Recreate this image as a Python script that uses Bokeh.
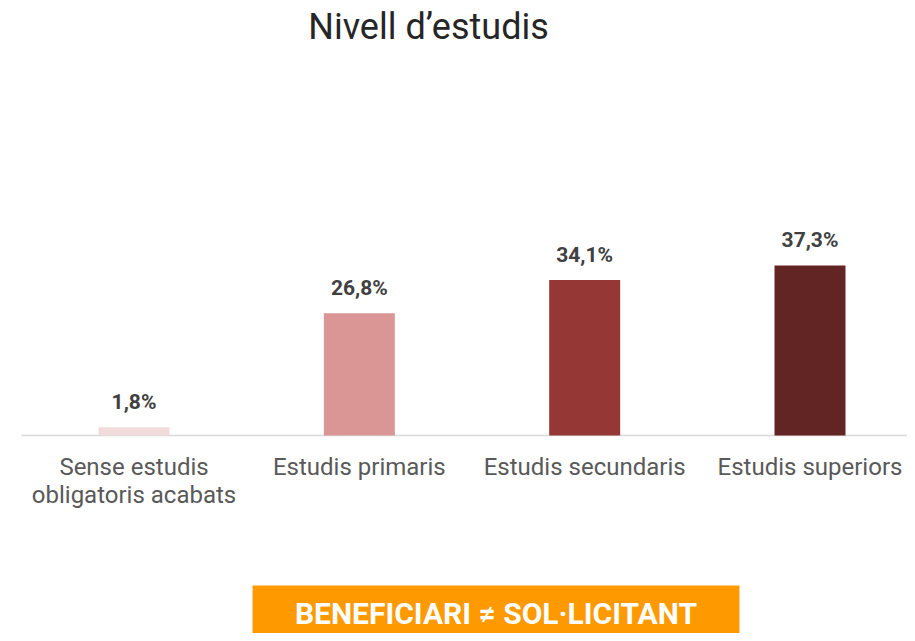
from bokeh.plotting import figure
from bokeh.models import Range1d, ColumnDataSource
from bokeh.core.properties import value
from bokeh.embed import file_html
from bokeh.resources import INLINE

# ---- data ----
title_text = "Nivell d’estudis"
categories = ["Sense estudis\nobligatoris acabats", "Estudis primaris",
              "Estudis secundaris", "Estudis superiors"]
percentages = [1.8, 26.8, 34.1, 37.3]
value_labels = ["1,8%", "26,8%", "34,1%", "37,3%"]
bar_colors = ["#F2DCDB", "#D99694", "#953735", "#632523"]
banner_text = "BENEFICIARI ≠ SOL·LICITANT"

# ---- layout ----
W, H = 907, 633
X0, X1 = -0.5925, 3.4327
Y0, Y1 = -43.44, 95.44
FONT = "Roboto"

xs = list(range(len(categories)))
line1 = [c.split("\n")[0] for c in categories]
line2 = [c.split("\n")[1] if "\n" in c else "" for c in categories]

src = ColumnDataSource(dict(x=xs, top=percentages, color=bar_colors,
                            lab=value_labels, l1=line1, l2=line2))

p = figure(width=W, height=H, x_range=Range1d(X0, X1), y_range=Range1d(Y0, Y1),
           output_backend="svg", toolbar_location=None,
           x_axis_location=None, y_axis_location=None, min_border=0)
p.outline_line_color = None
p.xgrid.visible = False
p.ygrid.visible = False
p.background_fill_color = "white"
p.border_fill_color = "white"

# baseline
p.segment(x0=[-0.5], y0=[0], x1=[X1 + 0.1], y1=[0], line_color="#D9D9D9", line_width=1.5)

# bars
p.vbar(x="x", top="top", bottom=0, width=0.315, fill_color="color", line_color=None, source=src)

# value labels
p.text(x="x", y="top", text="lab", source=src, y_offset=-25,
       text_align="center", text_baseline="alphabetic",
       text_font=value(FONT), text_font_style="bold", text_font_size="21px",
       text_color="#404040")

# category labels
for col, off in (("l1", 31), ("l2", 59)):
    p.text(x="x", y=0, text=col, source=src, y_offset=off,
           text_align="center", text_baseline="alphabetic",
           text_font=value(FONT), text_font_size="24px", text_color="#595959")

# title
p.text(x=[1.307], y=[89.7], text=[title_text], text_align="center",
       text_baseline="alphabetic", text_font=value(FONT), text_font_size="36px",
       text_color="#262626")

# banner
p.quad(left=[0.526], right=[2.687], bottom=[Y0 - 5], top=[-32.91],
       fill_color="#FF9900", line_color=None)
p.text(x=[1.6065], y=[-39.0], text=[banner_text], text_align="center",
       text_baseline="middle", text_font=value(FONT), text_font_style="bold",
       text_font_size="30px", text_color="white")

open("out.html", "w").write(file_html(p, INLINE))
